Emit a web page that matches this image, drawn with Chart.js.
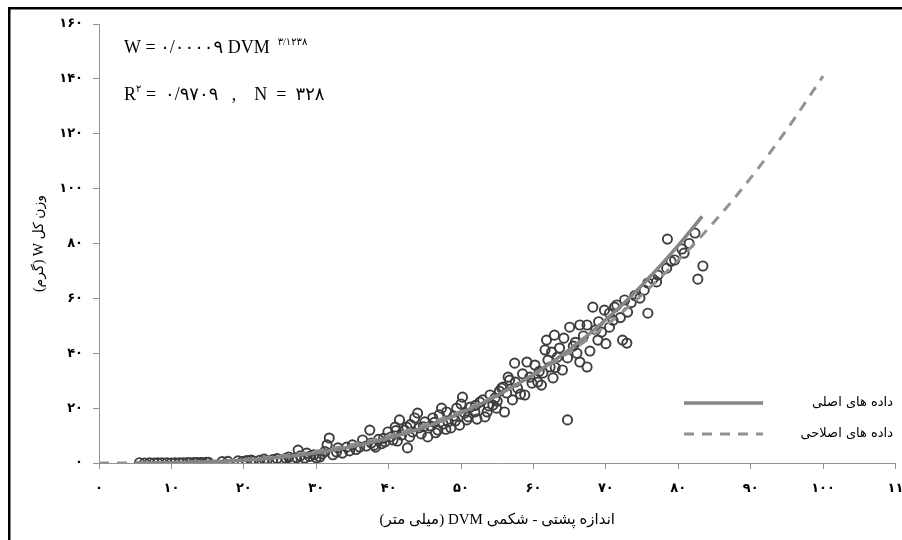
<!DOCTYPE html>
<html>
<head>
<meta charset="utf-8">
<script src="https://cdn.jsdelivr.net/npm/chart.js@4.4.1/dist/chart.umd.min.js"></script>
<style>
  html, body { margin: 0; padding: 0; background: #fff; }
  canvas { display: block; direction: rtl; }
</style>
</head>
<body>
<canvas id="dvm-chart" width="902" height="540"></canvas>
<script>
// measured specimens: dorso-ventral size (mm) and total weight (g)
const obsDVM = [
  5.6, 6.3, 7, 7.6, 8.1, 8.7, 9.4, 10, 10.5, 11.1,
  11.6, 12.2, 12.6, 13.1, 13.5, 14, 14.3, 14.8, 15.1, 17,
  17.8, 19.2, 19.8, 20.4, 21, 21.3, 22.2, 22.8, 23.2, 24,
  24.6, 25.2, 25.8, 26.2, 26.7, 27.3, 27.5, 27.8, 28.4, 28.7,
  29.1, 29.7, 30, 30.5, 30.8, 31.2, 31.5, 31.8, 32.3, 32.8,
  33, 33.6, 34.2, 34.6, 35, 35.5, 36, 36.4, 36.9, 37.4,
  37.6, 38, 38.2, 38.6, 39, 39.3, 39.5, 39.9, 40.3, 40.6,
  40.9, 41, 41.2, 41.5, 41.8, 42.2, 42.5, 42.6, 42.9, 43,
  43.3, 43.6, 44, 44.2, 44.5, 44.8, 45, 45.4, 45.8, 46.1,
  46.3, 46.5, 46.8, 47, 47.3, 47.5, 47.9, 48, 48.2, 48.6,
  49, 49.2, 49.4, 49.8, 50, 50.2, 50.5, 50.8, 51, 51.3,
  51.9, 52, 52.2, 52.6, 53, 53.3, 53.6, 53.8, 54, 54.4,
  54.7, 54.9, 55, 55.3, 55.6, 55.8, 56, 56.3, 56.5, 56.7,
  57.1, 57.4, 57.5, 57.8, 58.2, 58.5, 58.8, 59.1, 59.5, 59.8,
  60.2, 60.6, 60.8, 61.1, 61.3, 61.6, 61.8, 62, 62.3, 62.5,
  62.7, 62.9, 63, 63.3, 63.6, 64, 64.2, 64.7, 64.7, 65,
  65.5, 65.8, 66, 66.4, 66.4, 66.9, 67.4, 67.4, 67.8, 68.2,
  68.6, 68.9, 69, 69.4, 69.8, 70, 70.5, 70.5, 71, 71.2,
  71.5, 72, 72.3, 72.6, 72.9, 73, 73.5, 74, 74.7, 75.3,
  75.8, 75.8, 76.5, 77, 77.2, 78.4, 78.5, 79, 79.5, 80.5,
  80.8, 81.5, 82.3, 82.7, 83.4
];
const obsWeight = [
  0.1, 0, 0.1, 0, 0.1, 0.1, 0.1, 0, 0.1, 0.1,
  0.1, 0.2, 0.1, 0.2, 0.2, 0.2, 0.2, 0.3, 0.3, 0.5,
  0.6, 0.8, 0.5, 0.9, 1.1, 0.7, 1, 1.4, 0.8, 1.3,
  1.6, 1.1, 1.7, 2.2, 1.4, 1.9, 4.7, 2.6, 1.8, 3.6,
  2.4, 3, 1.9, 2.2, 3.3, 4.2, 6.6, 9.1, 3, 4,
  5.5, 3.6, 5.8, 4.4, 6.6, 4.9, 5.8, 8.4, 6.2, 12,
  7.3, 6.5, 5.8, 8.6, 7, 9, 7.7, 11.3, 9.5, 8.4,
  13.1, 11.8, 8, 15.7, 10.2, 12, 13.1, 5.5, 9.5, 14,
  11.3, 16.4, 18.2, 12.8, 10.6, 13.2, 15, 9.5, 13.5, 16.4,
  14.8, 11, 12, 17.6, 20, 14.2, 12.3, 18.6, 15, 12.8,
  17.1, 15.3, 20, 13.8, 21.5, 24, 18.2, 15.7, 16.8, 20.4,
  18.6, 21, 16, 22.2, 23, 16.8, 18.6, 20.8, 24.8, 21.1,
  23.7, 20, 22.5, 26.2, 27.3, 27.7, 18.6, 25.5, 31.3, 30.2,
  23, 36.4, 29.5, 27.3, 25.1, 32.5, 24.8, 36.8, 31.3, 29.1,
  35.7, 29.5, 33.4, 28.4, 32.8, 41.2, 44.8, 37.5, 35, 40.4,
  31, 46.6, 34.8, 38.6, 41.9, 33.9, 45.5, 38.3, 15.7, 49.5,
  42.6, 44, 40, 50.3, 36.8, 46.3, 50.3, 35, 40.8, 56.8,
  48.5, 44.8, 51.5, 47.7, 55.7, 43.5, 54.6, 49.5, 52, 56.8,
  57.6, 53, 44.8, 59.4, 43.7, 55, 58.5, 61, 60.1, 63,
  65.6, 54.6, 67, 66, 68.5, 71, 81.6, 73.5, 74, 78,
  76.5, 80, 83.8, 67, 71.8
];

// fitted curve for the original data
const fitDVM = [5, 10, 15, 20, 25, 30, 35, 40, 45, 50, 55, 60, 65, 70, 75, 80, 83.3];
const fitWeight = [0.01, 0.12, 0.42, 1.04, 2.09, 3.7, 6, 9.1, 13.1, 18.3, 24.6, 32.3, 41.4, 52.2, 64.8, 79.3, 89.9];

// fitted curve for the corrected data
const corrDVM = [0, 10, 20, 30, 40, 50, 60, 70, 80, 85, 90, 95, 100];
const corrWeight = [0, 0.18, 1.3, 4.3, 9.9, 18.9, 32.1, 50.1, 73.9, 88, 103.9, 121.6, 141];

const xTickLabels = ['۰', '۱۰', '۲۰', '۳۰', '۴۰', '۵۰', '۶۰', '۷۰', '۸۰', '۹۰', '۱۰۰', '۱۱'];
const yTickLabels = ['۰', '۲۰', '۴۰', '۶۰', '۸۰', '۱۰۰', '۱۲۰', '۱۴۰', '۱۶۰'];

const seriesLabels = ['داده های اصلی', 'داده های اصلاحی'];
const xTitle = 'اندازه پشتی - شکمی DVM (میلی متر)';
const yTitle = 'وزن کل W (گرم)';

const coefText = '۰/۰۰۰۰۹';
const exponentText = '۳/۱۲۳۸';
const r2Text = '۰/۹۷۰۹';
const nText = '۳۲۸';

function zipPoints(xs, ys) {
  return xs.map((x, i) => ({ x: x, y: ys[i] }));
}

const frame = {
  id: 'frame',
  beforeDraw(chart) {
    const ctx = chart.ctx;
    ctx.save();
    ctx.fillStyle = '#fff';
    ctx.fillRect(0, 0, chart.width, chart.height);
    ctx.fillStyle = '#000';
    ctx.fillRect(8, 7, 2.5, chart.height);
    ctx.fillRect(8, 7, chart.width, 2.5);
    ctx.restore();
  }
};

// regression formula in the top left corner
const equation = {
  id: 'equation',
  afterDraw(chart) {
    const ctx = chart.ctx;
    const big = '18px "Liberation Serif", "DejaVu Sans"';
    const small = '10px "Liberation Serif", "DejaVu Sans"';
    ctx.save();
    ctx.direction = 'ltr';
    ctx.textAlign = 'left';
    ctx.textBaseline = 'alphabetic';
    ctx.fillStyle = '#000';

    let x = 124;
    ctx.font = big;
    const line1 = 'W = ' + coefText + ' DVM';
    ctx.fillText(line1, x, 53);
    x += ctx.measureText(line1).width + 8;
    ctx.font = small;
    ctx.fillText(exponentText, x, 45);

    x = 124;
    ctx.font = big;
    ctx.fillText('R', x, 100);
    x += ctx.measureText('R').width;
    ctx.font = small;
    ctx.fillText('۲', x, 92);
    x += ctx.measureText('۲').width;
    ctx.font = big;
    ctx.fillText(' =  ' + r2Text + '   ,    N  =  ' + nText, x, 100);
    ctx.restore();
  }
};

// legend for the two fitted curves, inside the plot
const curveLegend = {
  id: 'curveLegend',
  afterDraw(chart) {
    const ctx = chart.ctx;
    const rows = [403, 434];
    ctx.save();
    rows.forEach((y, i) => {
      const ds = chart.data.datasets[i];
      ctx.strokeStyle = ds.borderColor;
      ctx.lineWidth = ds.borderWidth;
      ctx.setLineDash(ds.borderDash || []);
      ctx.beginPath();
      ctx.moveTo(684, y);
      ctx.lineTo(763, y);
      ctx.stroke();
      ctx.setLineDash([]);
      ctx.direction = 'rtl';
      ctx.textAlign = 'right';
      ctx.textBaseline = 'middle';
      ctx.fillStyle = '#000';
      ctx.font = '13px "DejaVu Sans"';
      ctx.fillText(ds.label, 893, y);
    });
    ctx.restore();
  }
};

const axisColor = '#939393';
const tickFont = { family: '"DejaVu Sans"', size: 13, weight: 'bold' };
const titleFont = { family: '"Liberation Serif", "DejaVu Sans"', size: 15 };

new Chart(document.getElementById('dvm-chart'), {
  type: 'scatter',
  data: {
    datasets: [
      {
        type: 'line',
        label: seriesLabels[0],
        data: zipPoints(fitDVM, fitWeight),
        borderColor: '#868686',
        borderWidth: 3.5,
        pointRadius: 0,
        cubicInterpolationMode: 'monotone',
        fill: false
      },
      {
        type: 'line',
        label: seriesLabels[1],
        data: zipPoints(corrDVM, corrWeight),
        borderColor: '#929292',
        borderWidth: 3,
        borderDash: [10, 8],
        pointRadius: 0,
        cubicInterpolationMode: 'monotone',
        fill: false
      },
      {
        label: 'W',
        data: zipPoints(obsDVM, obsWeight),
        pointRadius: 4.6,
        pointBorderWidth: 1.9,
        borderColor: '#3d3d3d',
        pointBorderColor: '#3d3d3d',
        backgroundColor: 'rgba(0,0,0,0)',
        pointBackgroundColor: 'rgba(0,0,0,0)'
      }
    ]
  },
  options: {
    responsive: false,
    animation: false,
    devicePixelRatio: 1,
    layout: { padding: { top: 24, right: 6, left: 0, bottom: 0 } },
    plugins: {
      legend: { display: false },
      tooltip: { enabled: false }
    },
    scales: {
      x: {
        type: 'linear',
        min: 0,
        max: 110,
        afterFit(scale) {
          scale.height = 77;
          scale.paddingLeft = 0;
          scale.paddingRight = 0;
        },
        border: { color: axisColor, width: 1 },
        grid: { drawOnChartArea: false, drawTicks: true, tickLength: 6, color: axisColor },
        ticks: {
          stepSize: 10,
          padding: 12,
          maxRotation: 0,
          autoSkip: false,
          color: '#000',
          font: tickFont,
          callback: (v) => xTickLabels[Math.round(v / 10)]
        },
        title: {
          display: true,
          text: xTitle,
          color: '#000',
          font: titleFont,
          padding: { top: 0, bottom: 11 }
        }
      },
      y: {
        type: 'linear',
        min: 0,
        max: 160,
        afterFit(scale) {
          scale.width = 99;
          scale.paddingTop = 0;
          scale.paddingBottom = 0;
        },
        border: { color: axisColor, width: 1 },
        grid: { drawOnChartArea: false, drawTicks: true, tickLength: 6, color: axisColor },
        ticks: {
          stepSize: 20,
          padding: 10,
          color: '#000',
          font: tickFont,
          callback: (v) => yTickLabels[Math.round(v / 20)]
        },
        title: {
          display: true,
          text: yTitle,
          color: '#000',
          font: { family: '"Liberation Serif", "DejaVu Sans"', size: 14 },
          padding: { top: 31, bottom: 0 }
        }
      }
    }
  },
  plugins: [frame, equation, curveLegend]
});
</script>
</body>
</html>
